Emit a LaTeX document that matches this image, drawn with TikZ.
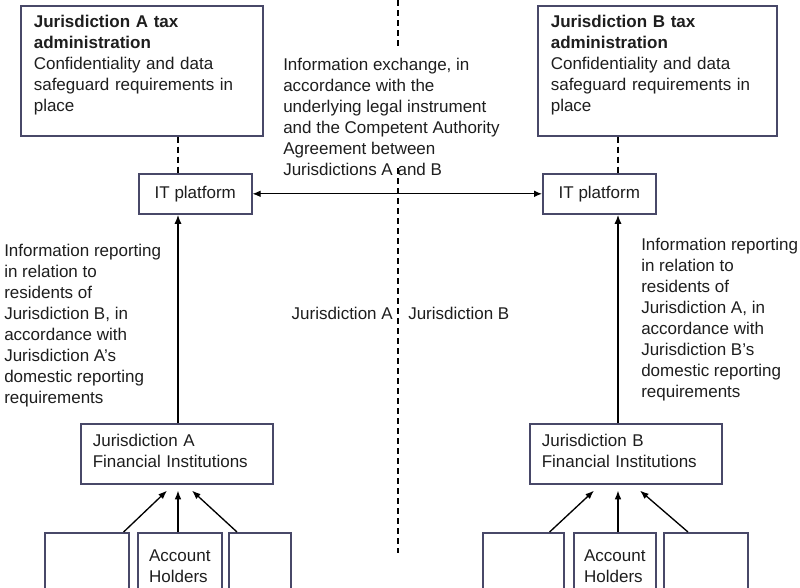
\documentclass[tikz,border=0pt]{standalone}
\usepackage{fontspec}
\setmainfont{Liberation Sans}
\usetikzlibrary{arrows.meta}
\definecolor{boxline}{RGB}{72,72,104}
\definecolor{inkgray}{RGB}{30,30,30}
\tikzset{
  box/.style={draw=boxline, line width=1.2pt, text=inkgray},
  taxbox/.style={box, anchor=north west, align=left, text width=#1, inner xsep=9.75pt, inner ysep=0pt, text height=16.5pt, text depth=81pt},
  itbox/.style={box, anchor=north west, minimum width=84.75pt, minimum height=30pt, inner sep=0pt},
  fibox/.style={box, anchor=north west, align=left, text width=126pt, inner xsep=9pt, inner ysep=0pt, text height=17.25pt, text depth=27.75pt},
  holder/.style={box, anchor=north west, inner sep=0pt, minimum width=#1, text height=21.75pt, text depth=29.25pt},
  note/.style={align=left, inner sep=0pt, text=inkgray},
  dashline/.style={line width=1.2pt, dash pattern=on 4.5pt off 3pt},
  report/.style={-{Latex[length=7pt,width=5.5pt]}, line width=1.4pt},
  feed/.style={-{Latex[length=6.5pt,width=5pt]}, line width=1pt},
  swap/.style={{Latex[length=6pt,width=5pt]}-{Latex[length=6pt,width=5pt]}, line width=0.8pt}
}
\begin{document}
\begin{tikzpicture}[x=0.75pt, y=-0.75pt, font=\fontsize{12.75}{15.75}\selectfont]
\clip (0,0) rectangle (800,587);
\fill[white] (0,0) rectangle (800,587);
% columns of the two sides
\coordinate (colA) at (178,0);
\coordinate (colB) at (618,0);
% tax administrations
\node[taxbox=162pt] (taxA) at (20,5) {\textbf{Jurisdiction A tax}\\\textbf{administration}\\Confidentiality and data\\safeguard requirements in\\place};
\node[taxbox=159.75pt] (taxB) at (537,5) {\textbf{Jurisdiction B tax}\\\textbf{administration}\\Confidentiality and data\\safeguard requirements in\\place};
% IT platforms
\node[itbox] (itA) at (138,173) {IT platform};
\node[itbox] (itB) at (542,173) {IT platform};
% financial institutions
\node[fibox] (fiA) at (80,423) {Jurisdiction A\\Financial Institutions};
\node[fibox] (fiB) at (529,423) {Jurisdiction B\\Financial Institutions};
\coordinate (fiAin) at (fiA.south -| colA);
\coordinate (fiBin) at (fiB.south -| colB);
% account holders
\node[holder=63pt] (lh1) at (44,532) {};
\node[holder=63pt, text width=46pt, inner xsep=8.5pt, align=left] (lh2) at (137,532) {Account\\Holders};
\node[holder=46.5pt] (lh3) at (228,532) {};
\node[holder=60.75pt] (rh1) at (482,532) {};
\node[holder=61.5pt, text width=46pt, inner xsep=7.75pt, align=left] (rh2) at (573,532) {Account\\Holders};
\node[holder=63pt] (rh3) at (663,532) {};
% texts
\node[note, anchor=north west] (exch) at (283,58) {Information exchange, in\\accordance with the\\underlying legal instrument\\and the Competent Authority\\Agreement between\\Jurisdictions A and B};
\node[note, anchor=north west] (repA) at (4,244) {Information reporting\\in relation to\\residents of\\Jurisdiction B, in\\accordance with\\Jurisdiction A's\\domestic reporting\\requirements};
\node[note, anchor=north west] (repB) at (641,238) {Information reporting\\in relation to\\residents of\\Jurisdiction A, in\\accordance with\\Jurisdiction B's\\domestic reporting\\requirements};
\node[note, anchor=base east] (sideA) at (393,319) {Jurisdiction A};
\node[note, anchor=base west] (sideB) at (408,319) {Jurisdiction B};
% border between the jurisdictions
\coordinate (midtop) at (398,0);
\coordinate (midgap) at (398,50);
\coordinate (midgo) at (398,168);
\coordinate (midend) at (398,553);
\draw[dashline] (midtop) -- (midgap);
\draw[dashline] (midgo) -- (midend);
% connectors
\draw[dashline] (taxA.south -| colA) -- (itA.north -| colA);
\draw[dashline] (taxB.south -| colB) -- (itB.north -| colB);
\draw[swap] (itA) -- (itB);
\draw[report] (fiA.north -| colA) -- (itA.south -| colA);
\draw[report] (fiB.north -| colB) -- (itB.south -| colB);
\draw[feed] ([xshift=-4.5pt]lh1.north east) -- ([xshift=-8.25pt,yshift=-4.5pt]fiAin);
\draw[feed] (lh2.north -| colA) -- ([yshift=-4.5pt]fiAin);
\draw[feed] ([xshift=6.75pt]lh3.north west) -- ([xshift=10.5pt,yshift=-4.5pt]fiAin);
\draw[feed] ([xshift=-11.25pt]rh1.north east) -- ([xshift=-18pt,yshift=-4.5pt]fiBin);
\draw[feed] (rh2.north -| colB) -- ([yshift=-4.5pt]fiBin);
\draw[feed] ([xshift=18.75pt]rh3.north west) -- ([xshift=16.5pt,yshift=-4.5pt]fiBin);
\end{tikzpicture}
\end{document}
